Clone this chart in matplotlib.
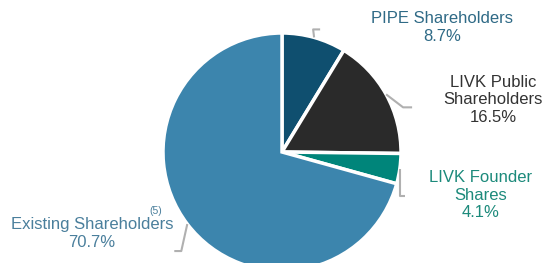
import matplotlib.pyplot as plt
import numpy as np

# ownership split, clockwise from 12 o'clock
labels = ["PIPE Shareholders", "LIVK Public\nShareholders", "LIVK Founder\nShares", "Existing Shareholders"]
shares = [8.7, 16.5, 4.1, 70.7]
colors = ["#0f4f6f", "#2a2a2a", "#00857a", "#3c85ad"]
text_colors = ["#2f6a86", "#333333", "#1c8a7b", "#4a7f9c"]

plt.rcParams["font.family"] = ["Liberation Sans", "DejaVu Sans"]

W, H = 547, 263
fig = plt.figure(figsize=(W / 100, H / 100), dpi=100)
ax = fig.add_axes([0, 0, 1, 1])

cx, cy, r = 282, H - 152, 119
wedges, _ = ax.pie(shares, colors=colors, startangle=90, counterclock=False,
                   center=(cx, cy), radius=r, frame=True,
                   wedgeprops=dict(edgecolor="white", linewidth=2.5))
ax.set_xlim(0, W)
ax.set_ylim(0, H)
ax.set_aspect("equal")
ax.axis("off")

# leader line elbows (offsets from wedge edge) and label anchors
elbows = [[(-1, 8), (6, 8)], [(17, -13), (26, -13)], [(0, -27), (5, -27)], [(-6, -27), (-13, -27)]]
label_pos = [(442, H - 27.5), (493, H - 100), (481, H - 195), (92, H - 233.5)]

for w, el in zip(wedges, elbows):
    ang = np.deg2rad((w.theta1 + w.theta2) / 2)
    x0, y0 = cx + r * np.cos(ang), cy + r * np.sin(ang)
    xs = [x0] + [x0 + dx for dx, dy in el]
    ys = [y0] + [y0 + dy for dx, dy in el]
    ax.plot(xs, ys, color="#b0b0b0", lw=1.5, solid_capstyle="butt", clip_on=False)

for lab, s, lp, tc in zip(labels, shares, label_pos, text_colors):
    ax.text(lp[0], lp[1], f"{lab}\n{s}%", ha="center", va="center",
            fontsize=12, color=tc, linespacing=1.2)

ax.text(156, H - 211, "(5)", ha="center", va="center", fontsize=7.5, color="#4a7f9c")

fig.savefig("out.png", dpi=100)
